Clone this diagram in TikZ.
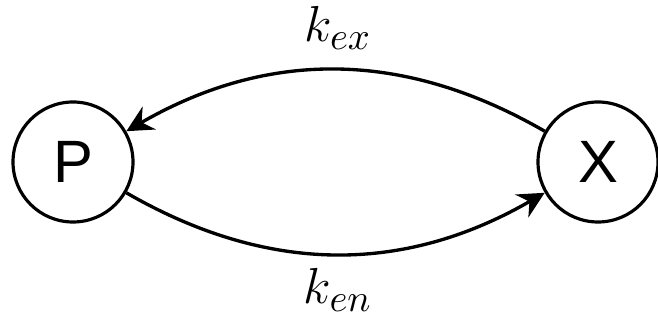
\documentclass[tikz,border=0pt]{standalone}
\usepackage{fontspec}
\newfontfamily\nodefont{Liberation Sans}
\usetikzlibrary{arrows.meta}
\begin{document}
\begin{tikzpicture}[x=0.01cm,y=-0.01cm,
  state/.style={circle,draw,line width=0.9pt,minimum size=120*0.01cm,inner sep=0pt,font=\fontsize{17}{20}\selectfont\nodefont},
  conn/.style={line width=0.95pt,-{Stealth[length=7.5pt,width=7.5pt,inset=2.5pt]}},
  lab/.style={font=\fontsize{15}{18}\selectfont}]
\useasboundingbox (0,0) rectangle (658,331);
\node[state] (P) at (73,162) {P};
\node[state] (X) at (598,162) {X};
\draw[conn] (X) to[bend right=30] (P);
\draw[conn] (P) to[bend right=30] (X);
\node[lab] (kex) at (338,28) {$k_{ex}$};
\node[lab] (ken) at (338,290) {$k_{en}$};
\end{tikzpicture}
\end{document}
